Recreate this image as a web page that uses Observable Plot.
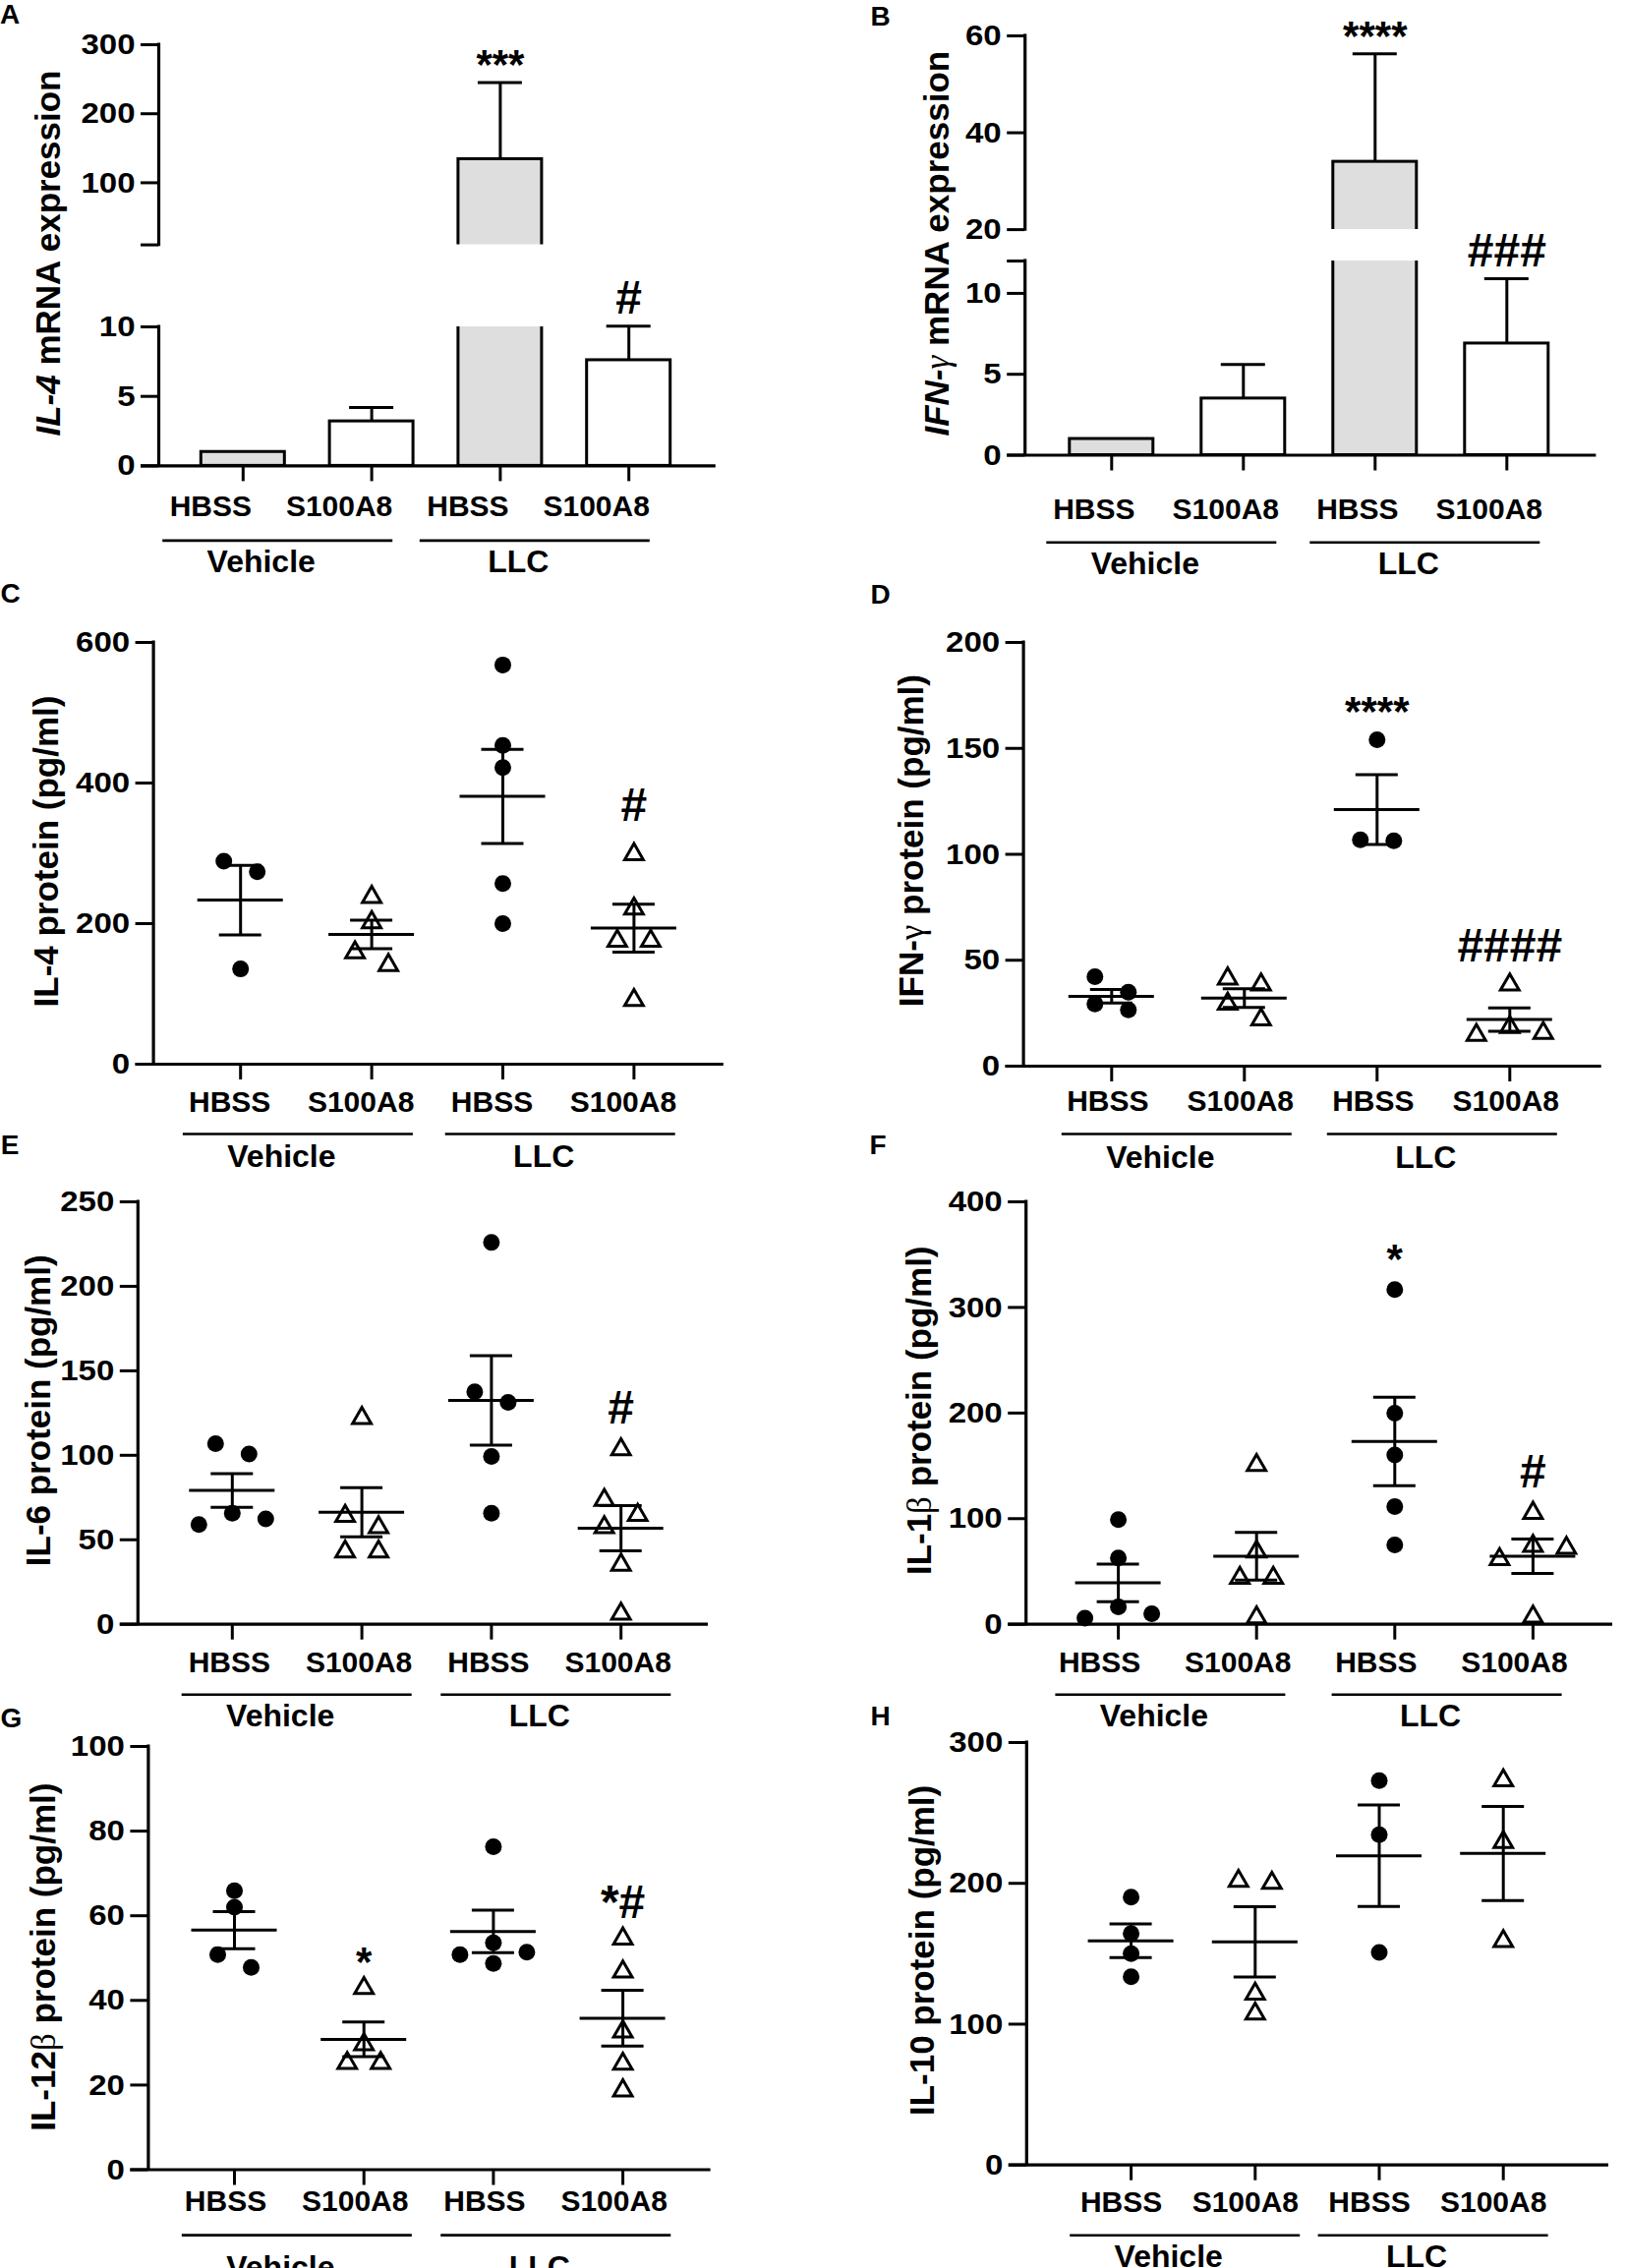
<!DOCTYPE html>
<html>
<head>
<meta charset="utf-8">
<script src="https://cdn.jsdelivr.net/npm/d3@7"></script>
<script src="https://cdn.jsdelivr.net/npm/@observablehq/plot@0.6"></script>
<style>
  html, body { margin: 0; padding: 0; background: #fff; }
  #fig { position: relative; width: 1654px; height: 2307px; overflow: hidden; background: #fff;
         font-family: "Liberation Sans", Arial, Helvetica, sans-serif; color: #000; }
  .letter { position: absolute; font-weight: bold; font-size: 28px; line-height: 1; transform: translate(-50%, -50%); }
</style>
</head>
<body>
<div id="fig"></div>
<script>
// ---------------- DATA ----------------
const categories = ["HBSS", "S100A8", "HBSS", "S100A8"];
const groupNames = ["Vehicle", "LLC"];
const groupMembers = [[0, 1], [2, 3]];

// A: IL-4 mRNA expression (mean, SEM)
const il4MrnaMean = [1.0, 3.2, 134.2, 7.6];
const il4MrnaSem = [0, 1.0, 111.1, 2.45];
const il4MrnaSig = ["", "", "***", "#"];
const il4MrnaTicksLow = [0, 5, 10];
const il4MrnaTicksHigh = [100, 200, 300];

// B: IFN-gamma mRNA expression
const ifngMrnaMean = [1.0, 3.5, 34.0, 6.9];
const ifngMrnaSem = [0, 2.1, 22.3, 4.0];
const ifngMrnaSig = ["", "", "****", "###"];
const ifngMrnaTicksLow = [0, 5, 10];
const ifngMrnaTicksHigh = [20, 40, 60];

// C: IL-4 protein (pg/ml)
const il4Protein = [[288.7, 273.7, 135.5], [237.8, 201.8, 159.0, 141.0], [568.0, 453.5, 422.0, 257.0, 200.0], [298.6, 221.2, 175.3, 175.3, 91.2]];
const il4ProteinMean = [233.4, 184.6, 381.0, 193.6];
const il4ProteinSem = [49.5, 20.2, 67.0, 34.0];
const il4ProteinSig = ["", "", "", "#"];
const il4ProteinTicks = [0, 200, 400, 600];

// D: IFN-gamma protein (pg/ml)
const ifngProtein = [[42.2, 34.9, 29.4, 26.6], [41.3, 38.5, 29.4, 22.0], [154.1, 106.8, 106.4], [38.5, 18.4, 15.6, 14.7]];
const ifngProteinMean = [33.0, 32.1, 121.1, 22.0];
const ifngProteinSem = [3.2, 4.4, 16.5, 5.5];
const ifngProteinSig = ["", "", "****", "####"];
const ifngProteinTicks = [0, 50, 100, 150, 200];

// E: IL-6 protein (pg/ml)
const il6Protein = [[106.9, 100.8, 65.7, 62.3, 59.0], [122.0, 64.1, 57.4, 43.0, 43.0], [226.0, 137.6, 131.3, 99.3, 65.7], [103.5, 73.5, 64.6, 57.4, 35.2, 6.2]];
const il6ProteinMean = [79.2, 66.3, 132.5, 56.8];
const il6ProteinSem = [10.0, 14.5, 26.5, 13.4];
const il6ProteinSig = ["", "", "", "#"];
const il6ProteinTicks = [0, 50, 100, 150, 200, 250];

// F: IL-1beta protein (pg/ml)
const il1bProtein = [[99.0, 62.7, 16.4, 10.0, 5.7], [150.7, 68.7, 43.8, 43.8, 6.4], [317.0, 199.8, 160.3, 111.5, 75.2], [105.4, 74.1, 72.3, 61.6, 7.1]];
const il1bProteinMean = [39.2, 64.5, 173.1, 64.5];
const il1bProteinSem = [17.8, 22.6, 41.8, 16.3];
const il1bProteinSig = ["", "", "*", "#"];
const il1bProteinTicks = [0, 100, 200, 300, 400];

// G: IL-12beta protein (pg/ml)
const il12bProtein = [[65.9, 62.0, 50.8, 47.8], [42.9, 29.6, 25.2, 25.2], [76.3, 53.6, 51.4, 50.8, 48.7], [54.6, 46.8, 32.6, 25.0, 18.7]];
const il12bProteinMean = [56.6, 30.8, 56.3, 35.8];
const il12bProteinSem = [4.4, 4.1, 5.0, 6.6];
const il12bProteinSig = ["", "*", "", "*#"];
const il12bProteinTicks = [0, 20, 40, 60, 80, 100];

// H: IL-10 protein (pg/ml)
const il10Protein = [[190.2, 164.3, 150.1, 133.6], [201.7, 200.3, 121.5, 107.4], [273.0, 234.5, 150.9], [273.0, 229.2, 158.9]];
const il10ProteinMean = [159.2, 158.4, 219.6, 221.2];
const il10ProteinSem = [12.0, 25.0, 36.0, 33.4];
const il10ProteinSig = ["", "", "", ""];
const il10ProteinTicks = [0, 100, 200, 300];

// ---------------- LAYOUT / STYLE ----------------
const FONT = '"Liberation Sans", Arial, Helvetica, sans-serif';
const SYMFONT = '"Liberation Serif", "DejaVu Serif", serif';
const GRAY = "#dedede";
const WIDE = 1.1; // horizontal stretch of tick / category labels

const panels = [
  {id: "A", col: 0, kind: "bar", mean: il4MrnaMean, sem: il4MrnaSem, sig: il4MrnaSig,
   label: "IL-4 mRNA expression", parts: [{t: "IL-4", it: true}, {t: " mRNA expression"}],
   yAxisX: 161, firstTick: 246.8, step: 130.8, rightEnd: 727.8,
   segments: [{domain: [0, 10], top: 332, bottom: 473.4, ticks: il4MrnaTicksLow},
              {domain: [10, 300], top: 45.2, bottom: 248.8, ticks: il4MrnaTicksHigh, endTick: 10}],
   catOff: 51, lineOff: 76, textOff: 108.6, catDx: -33, grpDx: -30, labelX: 49, labelY: 257, gap: 28,
   letter: [10, 15]},
  {id: "B", col: 1, kind: "bar", mean: ifngMrnaMean, sem: ifngMrnaSem, sig: ifngMrnaSig,
   label: "IFN-γ mRNA expression", parts: [{t: "IFN-", it: true}, {t: "γ", it: true, sym: true}, {t: " mRNA expression"}],
   yAxisX: 1042.2, firstTick: 1130.3, step: 134, rightEnd: 1623.4,
   segments: [{domain: [0, 12], top: 264.8, bottom: 462.3, ticks: ifngMrnaTicksLow, endTick: 12},
              {domain: [20, 60], top: 35.6, bottom: 232.7, ticks: ifngMrnaTicksHigh}],
   catOff: 65, lineOff: 88.7, textOff: 121, catDx: -18, grpDx: -16, labelX: 953.6, labelY: 247, gap: 28,
   letter: [895.6, 17]},
  {id: "C", col: 0, kind: "scatter", values: il4Protein, mean: il4ProteinMean, sem: il4ProteinSem, sig: il4ProteinSig,
   label: "IL-4 protein (pg/ml)", parts: [{t: "IL-4 protein (pg/ml)"}],
   yAxisX: 155.6, firstTick: 244.2, step: 133.4, rightEnd: 735.8,
   segments: [{domain: [0, 600], top: 653.2, bottom: 1082.2, ticks: il4ProteinTicks}],
   catOff: 48.6, lineOff: 71, textOff: 104, catDx: -11, grpDx: -8, labelX: 47.5, labelY: 865.7, gap: 49.5,
   letter: [10.5, 603.7]},
  {id: "D", col: 1, kind: "scatter", values: ifngProtein, mean: ifngProteinMean, sem: ifngProteinSem, sig: ifngProteinSig,
   label: "IFN-γ protein (pg/ml)", parts: [{t: "IFN-"}, {t: "γ", sym: true}, {t: " protein (pg/ml)"}],
   yAxisX: 1040.6, firstTick: 1130.3, step: 135, rightEnd: 1628.7,
   segments: [{domain: [0, 200], top: 653.2, bottom: 1084.2, ticks: ifngProteinTicks}],
   catOff: 45.4, lineOff: 69, textOff: 103, catDx: -4, grpDx: -1, labelX: 927.2, labelY: 854.8, gap: 38.7,
   letter: [895.6, 604.5]},
  {id: "E", col: 0, kind: "scatter", values: il6Protein, mean: il6ProteinMean, sem: il6ProteinSem, sig: il6ProteinSig,
   label: "IL-6 protein (pg/ml)", parts: [{t: "IL-6 protein (pg/ml)"}],
   yAxisX: 139.8, firstTick: 235.8, step: 131.8, rightEnd: 720,
   segments: [{domain: [0, 250], top: 1221.7, bottom: 1651.4, ticks: il6ProteinTicks}],
   catOff: 48.6, lineOff: 71.6, textOff: 104, catDx: -3, grpDx: 0, labelX: 39.6, labelY: 1434, gap: 41.4,
   letter: [10, 1165]},
  {id: "F", col: 1, kind: "scatter", values: il1bProtein, mean: il1bProteinMean, sem: il1bProteinSem, sig: il1bProteinSig,
   label: "IL-1β protein (pg/ml)", parts: [{t: "IL-1"}, {t: "β", sym: true}, {t: " protein (pg/ml)"}],
   yAxisX: 1043.2, firstTick: 1137.1, step: 140.6, rightEnd: 1640,
   segments: [{domain: [0, 400], top: 1221.7, bottom: 1651.4, ticks: il1bProteinTicks}],
   catOff: 48.6, lineOff: 71.6, textOff: 104, catDx: -19, grpDx: -17, labelX: 935, labelY: 1434, gap: 41,
   letter: [893, 1165]},
  {id: "G", col: 0, kind: "scatter", values: il12bProtein, mean: il12bProteinMean, sem: il12bProteinSem, sig: il12bProteinSig,
   label: "IL-12β protein (pg/ml)", parts: [{t: "IL-12"}, {t: "β", sym: true}, {t: " protein (pg/ml)"}],
   yAxisX: 150.4, firstTick: 238, step: 131.7, rightEnd: 722.6,
   segments: [{domain: [0, 100], top: 1775.8, bottom: 2206.3, ticks: il12bProteinTicks}],
   catOff: 42, lineOff: 66.6, textOff: 110, catDx: -9, grpDx: -2, labelX: 44, labelY: 1990, gap: 36,
   letter: [11.5, 1747.8]},
  {id: "H", col: 1, kind: "scatter", values: il10Protein, mean: il10ProteinMean, sem: il10ProteinSem, sig: il10ProteinSig,
   label: "IL-10 protein (pg/ml)", parts: [{t: "IL-10 protein (pg/ml)"}],
   yAxisX: 1043.8, firstTick: 1150.1, step: 126.2, rightEnd: 1636,
   segments: [{domain: [0, 300], top: 1771.6, bottom: 2201.3, ticks: il10ProteinTicks}],
   catOff: 48, lineOff: 71.6, textOff: 104, catDx: -10, grpDx: -8, labelX: 937.8, labelY: 1983, gap: 38,
   letter: [895.6, 1746.2]}
];

// GraphPad-like horizontal spreading of overlapping points (pixel offsets)
function spread(vals, ppu) {
  const D = 16.5, S = 34;
  const order = vals.map((v, i) => i).sort((a, b) => vals[b] - vals[a]);
  const off = vals.map(() => 0);
  const placed = [];
  const cands = [0, 1, -1, 2, -2, 3, -3];
  for (const i of order) {
    for (const k of cands) {
      const x = k * S;
      if (placed.every(j => Math.hypot(off[j] - x, (vals[j] - vals[i]) * ppu) >= D)) { off[i] = x; break; }
    }
    placed.push(i);
  }
  const clusters = [];
  let cur = [order[0]];
  for (let k = 1; k < order.length; k++) {
    if ((vals[order[k - 1]] - vals[order[k]]) * ppu < D) cur.push(order[k]);
    else { clusters.push(cur); cur = [order[k]]; }
  }
  clusters.push(cur);
  for (const c of clusters) {
    const xs = c.map(i => off[i]);
    const sh = -(Math.min(...xs) + Math.max(...xs)) / 2;
    c.forEach(i => off[i] += sh);
  }
  return off;
}

function richify(svg, plain, parts) {
  for (const t of svg.querySelectorAll("text")) {
    if (t.textContent === plain) {
      t.textContent = "";
      for (const p of parts) {
        const ts = document.createElementNS("http://www.w3.org/2000/svg", "tspan");
        ts.textContent = p.t;
        if (p.it) ts.setAttribute("font-style", "italic");
        if (p.sym) { ts.setAttribute("font-family", SYMFONT); ts.setAttribute("font-weight", "normal"); }
        t.appendChild(ts);
      }
    }
  }
}

function widen(svg) {
  const sel = 'g[aria-label="y-axis tick label"] text, g[aria-label="category label"] text';
  for (const t of svg.querySelectorAll(sel)) {
    const tr = t.getAttribute("transform");
    if (tr) t.setAttribute("transform", tr + ` scale(${WIDE},1)`);
  }
}

const fig = document.getElementById("fig");

for (const P of panels) {
  const left = P.col * 827, width = 827;
  const u = px => px / P.step;
  const x0 = (P.yAxisX - P.firstTick) / P.step;
  const x1 = (P.rightEnd - P.firstTick) / P.step;
  const mL = P.yAxisX - left, mR = left + width - P.rightEnd;
  const idx = [0, 1, 2, 3];
  const rows = idx.map(i => {
    const pts = P.kind === "scatter" ? P.values[i] : [];
    return {i, mean: P.mean[i], sem: P.sem[i], top: Math.max(P.mean[i] + P.sem[i], ...pts), sig: P.sig[i]};
  });
  const segOf = v => { const k = P.segments.findIndex(s => v <= s.domain[1] * 1.02 + 1e-9); return k < 0 ? P.segments.length - 1 : k; };
  const groupRows = groupNames.map((name, k) => ({name, c: d3.mean(groupMembers[k])}));

  P.segments.forEach((seg, si) => {
    const bottomSeg = si === 0;
    const [lo, hi] = seg.domain;
    const mt = 40, mb = bottomSeg ? 160 : 10;
    const height = seg.bottom - seg.top + mt + mb;
    const ppu = (seg.bottom - seg.top) / (hi - lo);
    const marks = [];

    if (P.kind === "bar") {
      const vis = rows.filter(d => d.mean > lo);
      marks.push(Plot.rect(vis.filter(d => d.i % 2 === 0), {x1: d => d.i - u(42.5), x2: d => d.i + u(42.5), y1: () => 0, y2: d => d.mean, fill: GRAY, stroke: "black", strokeWidth: 3, clip: true}));
      marks.push(Plot.rect(vis.filter(d => d.i % 2 === 1), {x1: d => d.i - u(42.5), x2: d => d.i + u(42.5), y1: () => 0, y2: d => d.mean, fill: "white", stroke: "black", strokeWidth: 3, clip: true}));
      const eb = rows.filter(d => d.sem > 0 && segOf(d.mean + d.sem) === si);
      marks.push(Plot.ruleX(eb, {x: "i", y1: d => Math.max(d.mean, lo), y2: d => d.mean + d.sem, strokeWidth: 3}));
      marks.push(Plot.ruleY(eb, {y: d => d.mean + d.sem, x1: d => d.i - u(22.5), x2: d => d.i + u(22.5), strokeWidth: 3}));
    } else {
      const pts = idx.flatMap(i => {
        const off = spread(P.values[i], ppu);
        return P.values[i].map((v, k) => ({i, v, x: i + u(off[k])}));
      });
      marks.push(Plot.dot(pts.filter(d => d.i % 2 === 0), {x: "x", y: "v", r: 8.5, fill: "black"}));
      marks.push(Plot.dot(pts.filter(d => d.i % 2 === 1), {x: "x", y: "v", r: 7, symbol: "triangle", fill: "white", stroke: "black", strokeWidth: 3}));
      marks.push(Plot.ruleX(rows, {x: "i", y1: d => d.mean - d.sem, y2: d => d.mean + d.sem, strokeWidth: 3}));
      marks.push(Plot.ruleY(rows, {y: "mean", x1: d => d.i - u(43.5), x2: d => d.i + u(43.5), strokeWidth: 3}));
      const caps = rows.flatMap(r => [{i: r.i, y: r.mean - r.sem}, {i: r.i, y: r.mean + r.sem}]);
      marks.push(Plot.ruleY(caps, {y: "y", x1: d => d.i - u(21.5), x2: d => d.i + u(21.5), strokeWidth: 3}));
    }

    // axes
    marks.push(Plot.ruleX([x0], {x: d => d, y1: () => lo, y2: () => hi, strokeWidth: 3.2, strokeLinecap: "square"}));
    marks.push(Plot.axisY({ticks: seg.ticks, tickSize: 18, tickPadding: 6, strokeWidth: 3, fontSize: 30, fontWeight: "bold", label: null}));
    if (seg.endTick != null) marks.push(Plot.axisY({ticks: [seg.endTick], tickSize: 18, strokeWidth: 3, fill: "none", label: null}));

    if (bottomSeg) {
      marks.push(Plot.ruleY([lo], {y: d => d, x1: () => x0 - u(18), x2: () => x1, strokeWidth: 3.2}));
      marks.push(Plot.axisX({ticks: idx, tickSize: 16, strokeWidth: 3, fill: "none", label: null}));
      marks.push(Plot.text(idx, {x: d => d, text: d => categories[d], frameAnchor: "bottom", lineAnchor: "bottom", dy: P.catOff, dx: P.catDx, fontSize: 30, fontWeight: "bold", ariaLabel: "category label"}));
      marks.push(Plot.ruleY(groupRows, {y: () => lo, x1: g => g.c - u(117), x2: g => g.c + u(117), dx: P.grpDx, dy: P.lineOff, strokeWidth: 2.6}));
      marks.push(Plot.text(groupRows, {x: "c", text: "name", frameAnchor: "bottom", lineAnchor: "bottom", dx: P.grpDx - 17, dy: P.textOff, fontSize: 32, fontWeight: "bold"}));
      marks.push(Plot.text([P.label], {text: d => d, frameAnchor: "left", rotate: -90, textAnchor: "middle", lineAnchor: "middle",
        dx: P.labelX - P.yAxisX, dy: P.labelY - (seg.top + seg.bottom) / 2, fontSize: 35, fontWeight: "bold"}));
    }

    // significance marks
    const ann = rows.filter(r => r.sig && segOf(r.top) === si);
    const star = ann.filter(r => /^\*+$/.test(r.sig));
    const hash = ann.filter(r => !/^\*+$/.test(r.sig));
    marks.push(Plot.text(star, {x: "i", y: "top", text: "sig", fontSize: 42, fontWeight: "bold", lineAnchor: "middle", dy: -(P.gap - 10.7)}));
    marks.push(Plot.text(hash, {x: "i", y: "top", text: "sig", fontSize: 48, fontWeight: "bold", lineAnchor: "middle", dy: -P.gap}));

    const svg = Plot.plot({
      width, height,
      marginLeft: mL, marginRight: mR, marginTop: mt, marginBottom: mb,
      x: {domain: [x0, x1], axis: null},
      y: {domain: [lo, hi], axis: null},
      style: {background: "transparent", overflow: "visible", fontFamily: FONT, color: "black", fontWeight: "bold"},
      marks
    });
    svg.style.position = "absolute";
    svg.style.left = left + "px";
    svg.style.top = (seg.top - mt) + "px";
    svg.style.maxWidth = "none";
    widen(svg);
    if (bottomSeg) richify(svg, P.label, P.parts);
    fig.appendChild(svg);
  });

  const L = document.createElement("div");
  L.className = "letter";
  L.textContent = P.id;
  L.style.left = P.letter[0] + "px";
  L.style.top = P.letter[1] + "px";
  fig.appendChild(L);
}
</script>
</body>
</html>
